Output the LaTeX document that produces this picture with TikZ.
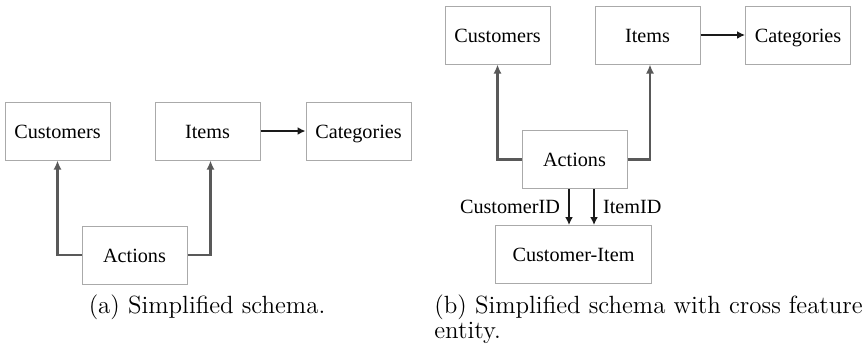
\documentclass[tikz,border=0pt]{standalone}
\usepackage{fontspec}
\newfontfamily\boxfont{Liberation Serif}
\usetikzlibrary{arrows.meta, positioning, calc}
\definecolor{boxline}{HTML}{AAAAAA}
\definecolor{linkgrey}{HTML}{595959}
\definecolor{linkdark}{HTML}{1A1A1A}

\begin{document}
\begin{tikzpicture}[x=0.5pt, y=-0.5pt,
  entity/.style={draw=boxline, line width=0.5pt, inner sep=0pt,
    minimum width=52.5pt, minimum height=29pt, text height=9pt, text depth=2pt,
    font=\boxfont\fontsize{10.1}{12}\selectfont},
  keylabel/.style={inner sep=4pt, font=\boxfont\fontsize{10.1}{12}\selectfont},
  fklink/.style={draw=linkgrey, line width=1.3pt, -{Latex[length=4.5pt, width=4pt]}},
  reflink/.style={draw=linkdark, line width=1.1pt, -{Latex[length=4pt, width=4pt]}},
  caption/.style={font=\fontsize{12.45}{12.5}\selectfont}]
  \useasboundingbox (0,0) rectangle (866,349);
  % (a) simplified schema
  \node[entity] (custA) at (57.5,131) {Customers};
  \node[entity] (itemA) at (207.5,131) {Items};
  \node[entity] (catA) at (358.5,131) {Categories};
  \node[entity] (actA) at (134.5,255) {Actions};
  \draw[fklink] (actA.west) -| (custA.south);
  \draw[fklink] (actA.east) -| ($(itemA.south)+(3,0)$);
  \draw[reflink] (itemA) -- (catA);
  \node[caption, anchor=base] (capA) at (207,313) {(a) Simplified schema.};
  % (b) with cross feature entity
  \node[entity] (custB) at (497.5,35) {Customers};
  \node[entity] (itemB) at (647.5,35) {Items};
  \node[entity] (catB) at (798,35) {Categories};
  \node[entity] (actB) at (574.5,159.5) {Actions};
  \node[entity, minimum width=78pt] (ciB) at (573.5,254.5) {Customer-Item};
  \draw[fklink] (actB.west) -| (custB.south);
  \draw[fklink] (actB.east) -| ($(itemB.south)+(2.5,0)$);
  \draw[reflink] (itemB) -- (catB);
  \coordinate (cidTop) at ($(actB.south)+(-5.5,0)$);
  \coordinate (iidTop) at ($(actB.south)+(19.5,0)$);
  \draw[reflink] (cidTop) -- (cidTop |- ciB.north)
    node[midway, left, keylabel] {CustomerID};
  \draw[reflink] (iidTop) -- (iidTop |- ciB.north)
    node[midway, right, keylabel] {ItemID};
  \node[caption, anchor=base west, align=left, inner sep=0pt] (capB) at (434,338)
    {(b) Simplified schema with cross feature\\entity.};
\end{tikzpicture}
\end{document}
